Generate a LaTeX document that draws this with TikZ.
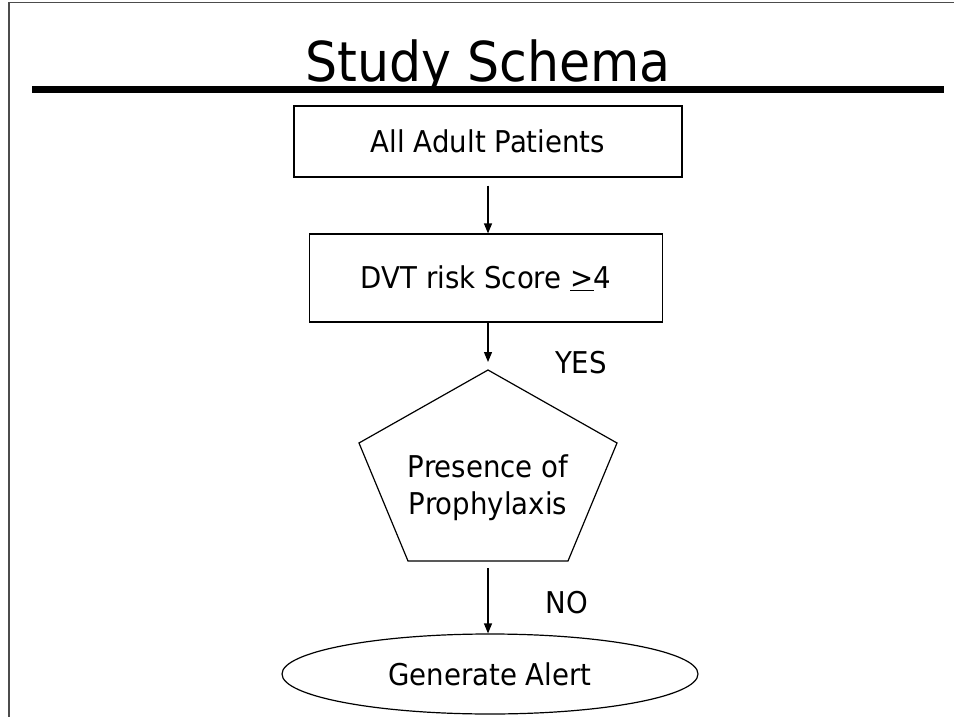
\documentclass[tikz,border=0pt]{standalone}
\usepackage{fontspec}
\setmainfont{DejaVu Sans}[FakeStretch=0.92]
\usetikzlibrary{arrows.meta,shapes.geometric}
\begin{document}
\begin{tikzpicture}[x=1pt,y=-1pt,
  txt/.style={font=\fontsize{30}{37}\selectfont},
  box/.style={draw, line width=1.2pt, inner sep=0pt, txt},
  arr/.style={-{Triangle[length=10pt,width=8pt]}, line width=1.2pt},
  frame/.style={line width=1.5pt, draw=black!70}]
\useasboundingbox (0,0) rectangle (954,717);
\coordinate (fl) at (9,717);
\coordinate (ftl) at (9,2.5);
\coordinate (ftr) at (954,2.5);
\draw[frame] (fl) -- (ftl) -- (ftr);
\node[anchor=base, font=\fontsize{55}{60}\selectfont] (title) at (488,82) {Study Schema};
\coordinate (rl) at (32,89.5);
\coordinate (rr) at (944,89.5);
\draw[line width=6.5pt] (rl) -- (rr);
\node[box, minimum width=388pt, minimum height=71pt] (b1) at (488,141.5) {All Adult Patients};
\node[box, minimum width=353pt, minimum height=88pt] (b2) at (486,278) {DVT risk Score \underline{>}4};
\coordinate (ptop) at (488,370);
\coordinate (pbot) at (488,561);
\draw[line width=1.2pt, line join=miter] (ptop) -- (617,443) -- (568,561) -- (408,561) -- (359,443) -- cycle;
\node[txt, align=center] (pent) at (488,488) {Presence of\\Prophylaxis};
\node[draw, ellipse, line width=1.2pt, minimum width=416pt, minimum height=80pt, inner sep=0pt, txt] (alert) at (490,674) {Generate Alert};
\draw[arr, shorten <=8pt] (b1.south) -- (b1.south |- b2.north);
\draw[arr, shorten >=8pt] (b2.south -| ptop) -- (ptop);
\draw[arr, shorten <=7pt] (pbot) -- (alert.north -| pbot);
\node[txt] (yes) at (581,363) {YES};
\node[txt] (no) at (567,603) {NO};
\end{tikzpicture}
\end{document}
